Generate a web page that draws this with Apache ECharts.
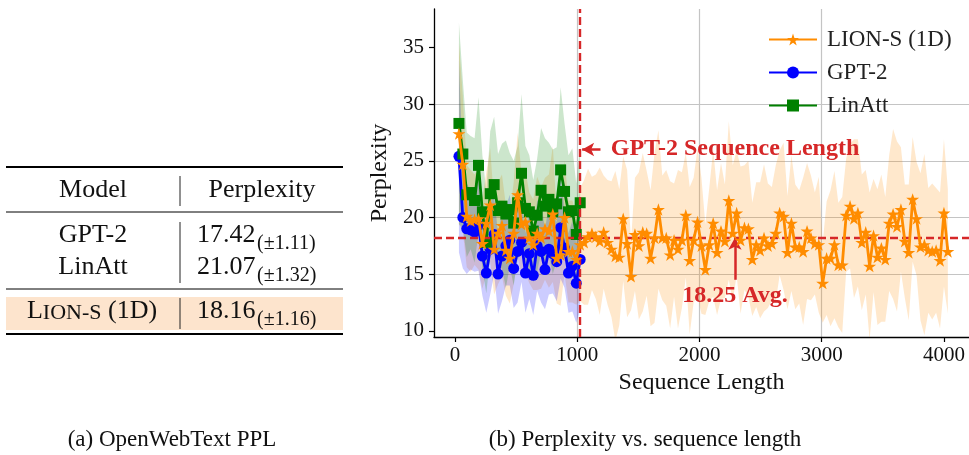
<!DOCTYPE html>
<html><head><meta charset="utf-8">
<script src="https://cdn.jsdelivr.net/npm/echarts@6/dist/echarts.min.js"></script>
<style>html,body{margin:0;padding:0;background:#fff}#c{width:969px;height:455px}</style>
</head><body><div id="c"></div>
<script>
// ---------------- data ----------------
const SEQ_STEP = 32; // sampling step of sequence lengths (32, 64, ...)
const lionPPL = [
  27.4, 24.7, 20.1, 19.7, 19.8, 19.9, 17.7, 19.5, 21.1, 17.2, 18.6, 19.3, 17.1, 16.4, 18.6, 22.0,
  19.4, 19.6, 18.2, 17.6, 18.6, 18.2, 19.0, 18.8, 20.3, 16.4, 16.7, 20.0, 17.0, 17.0, 16.3, 17.6,
  17.8, 18.3, 18.6, 18.3, 17.9, 18.7, 17.8, 17.2, 16.6, 16.5, 19.9, 17.7, 14.8, 18.5, 17.5, 18.7,
  18.6, 16.4, 18.2, 20.7, 18.2, 18.2, 16.7, 18.0, 17.2, 18.0, 20.2, 16.2, 18.0, 19.6, 17.5, 15.4,
  17.6, 19.5, 16.9, 18.8, 17.9, 21.5, 18.6, 20.4, 18.0, 19.1, 19.0, 16.3, 17.6, 17.1, 18.2, 17.5,
  17.7, 18.6, 20.4, 20.1, 16.9, 19.5, 17.4, 17.4, 17.0, 18.8, 18.2, 17.7, 17.6, 14.2, 16.4,
  16.4, 17.6, 15.8, 15.8, 20.2, 21.0, 19.9, 20.4, 17.8, 18.7, 15.7, 18.4, 16.5, 17.3, 16.3, 19.5,
  20.3, 19.2, 20.7, 17.9, 16.9, 21.6, 19.9, 17.4, 17.6, 17.1, 17.0, 17.1, 16.2, 20.4, 17.0
];
const lionStd = [
  8.0, 6.0, 4.5, 4.5, 4.0, 4.5, 4.0, 4.5, 5.0, 4.0, 4.5, 4.5, 4.0, 4.0, 4.5, 5.5,
  4.5, 4.5, 4.0, 4.0, 5.0, 4.5, 4.5, 5.0, 6.0, 4.0, 4.5, 5.0, 4.5, 4.5, 4.0, 5.0,
  5.5, 6.0, 5.0, 5.5, 6.5, 5.0, 5.5, 6.0, 7.5, 6.0,
  5.5, 6.5, 3.0, 5.0, 6.5, 7.0, 5.5, 6.0, 7.5, 7.0,
  5.5, 6.0, 6.5, 5.0, 7.0, 6.0, 5.5, 6.5, 5.5, 6.5,
  6.0, 4.0, 5.0, 6.5, 5.5, 6.0, 5.0, 7.0, 6.0, 5.5,
  6.5, 5.5, 6.0, 5.0, 5.5, 6.0, 6.5, 5.5, 5.0, 6.0,
  5.5, 6.5, 5.0, 6.0, 5.5, 5.0, 6.5, 6.0, 5.5, 4.5,
  6.0, 3.5, 5.0, 6.0, 6.5, 5.5, 6.0, 5.0, 5.5, 7.0,
  6.5, 6.0, 5.5, 6.5, 5.0, 6.0, 6.5, 5.5, 6.0, 7.5,
  7.5, 5.5, 5.0, 6.0, 5.5, 5.0, 6.5, 8.0, 5.5, 6.0,
  5.5, 6.0, 6.5, 5.5
];
const gpt2PPL = [
  25.4, 20.0, 19.0, 18.9, 18.7, 19.3, 16.6, 15.1, 17.2, 18.5, 15.0, 16.6, 17.5, 18.0, 15.5, 17.0,
  17.8, 15.1, 16.8, 14.9, 17.5, 17.0, 15.4, 17.2, 16.8, 16.1, 19.1, 17.3, 15.1, 15.7, 14.2, 16.3
];
const gpt2Std = [
  8.5, 4.5, 4.0, 3.5, 3.5, 4.0, 3.5, 3.5, 4.0, 3.5, 3.5, 4.0, 3.5, 4.0, 3.5, 4.5,
  3.5, 3.5, 4.0, 3.5, 4.0, 4.5, 3.5, 4.0, 3.5, 3.5, 4.5, 3.5, 3.5, 4.0, 3.5, 4.5
];
const linattPPL = [
  28.3, 25.6, 22.0, 22.2, 21.5, 24.6, 20.5, 17.8, 22.1, 22.9, 20.6, 21.0, 20.3, 20.7, 19.5, 21.3,
  23.9, 20.8, 20.5, 18.8, 20.2, 22.4, 21.0, 21.6, 20.5, 21.2, 24.2, 22.3, 20.5, 20.6, 18.5, 21.3
];
const linattStd = [
  8.9, 6.5, 5.5, 5.0, 5.5, 6.0, 5.0, 4.5, 5.5, 6.0, 5.0, 5.5, 6.5, 5.0, 5.5, 5.0,
  7.0, 5.5, 5.0, 4.5, 5.0, 5.5, 6.0, 5.0, 5.5, 5.0, 7.3, 6.0, 5.0, 5.5, 4.5, 5.0
];
const xTicks = [0, 1000, 2000, 3000, 4000];
const yTicks = [10, 15, 20, 25, 30, 35];
const gpt2SeqLen = 1024;
const lionAvg = 18.25;
const tableModels = ['GPT-2', 'LinAtt', 'LION-S (1D)'];
const tablePPL = ['17.42', '21.07', '18.16'];
const tableStd = ['1.11', '1.32', '1.16'];

// ---------------- helpers ----------------
const FONT = 'Liberation Serif';
const RED = '#d62728';
const ORANGE = '#ff8c00', BLUE = '#0000ff', GREEN = '#008000';
const STAR = 'path://M50 0 L61.2 34.5 L97.6 34.5 L68.2 55.9 L79.4 90.5 L50 69.1 L20.6 90.5 L31.8 55.9 L2.4 34.5 L38.8 34.5 Z';
const seqLen = i => (i + 1) * SEQ_STEP;
const pts = arr => arr.map((v, i) => [seqLen(i), v]);

function bandSeries(id, mean, sd, fill) {
  const data = mean.map((v, i) => [seqLen(i), v - sd[i], v + sd[i]]);
  return {
    type: 'custom', id, silent: true, z: 1,
    encode: { x: 0, y: [1, 2] },
    data,
    renderItem(params, api) {
      if (params.dataIndex !== 0) return null;
      const up = [], lo = [];
      for (const d of data) { up.push(api.coord([d[0], d[2]])); lo.push(api.coord([d[0], d[1]])); }
      const cs = params.coordSys;
      return {
        type: 'polygon', shape: { points: up.concat(lo.reverse()) },
        style: { fill },
        clipPath: { type: 'rect', shape: { x: cs.x, y: cs.y, width: cs.width, height: cs.height } }
      };
    }
  };
}

function lineSeries(name, arr, color, symbol, size, z) {
  return {
    name, type: 'line', data: pts(arr), symbol, symbolSize: size, symbolKeepAspect: true,
    showAllSymbol: true, z, lineStyle: { width: 2.8, color }, itemStyle: { color }
  };
}

const chart = echarts.init(document.getElementById('c'), null, { renderer: 'canvas' });

const orange = lineSeries('LION-S (1D)', lionPPL, ORANGE, STAR, 13, 5);
const redLine = { color: RED, width: 2.4, type: [8, 4] };
const redArrow = { color: RED, width: 2.5, type: 'solid' };
orange.markLine = {
  silent: true, animation: false, symbol: ['none', 'none'], label: { show: false },
  data: [
    { xAxis: gpt2SeqLen, lineStyle: redLine },
    { yAxis: lionAvg, lineStyle: redLine },
    [{ coord: [1190, 26.0], symbol: 'none', lineStyle: redArrow }, { coord: [1040, 26.0], symbol: 'arrow', symbolSize: [10, 12] }],
    [{ coord: [2290, 14.5], symbol: 'none', lineStyle: redArrow }, { coord: [2290, 18.2], symbol: 'arrow', symbolSize: [10, 12] }]
  ]
};
orange.markPoint = {
  silent: true, animation: false, symbol: 'circle', symbolSize: 1,
  itemStyle: { color: 'rgba(0,0,0,0)' },
  label: { show: true, color: RED, fontFamily: FONT, fontWeight: 'bold', fontSize: 24 },
  data: [
    { coord: [1270, 26.1], label: { position: 'right', distance: 0, formatter: 'GPT-2 Sequence Length' } },
    { coord: [2290, 13.1], label: { position: 'inside', formatter: lionAvg + ' Avg.' } }
  ]
};

// table graphics
const G = [];
const txt = (x, y, text, size, align, extra) => G.push(Object.assign({
  type: 'text', x, y, z: 10,
  style: { text, fontFamily: FONT, fontSize: size, fill: '#111', align: align || 'center', verticalAlign: 'middle' }
}, extra || {}));
const hline = (y, w) => G.push({ type: 'line', z: 10, shape: { x1: 6, y1: y, x2: 343, y2: y }, style: { stroke: '#000', lineWidth: w } });
const vline = (y1, y2) => G.push({ type: 'line', z: 10, shape: { x1: 180, y1, x2: 180, y2 }, style: { stroke: '#222', lineWidth: 1 } });

G.push({ type: 'rect', z: 5, shape: { x: 6, y: 297, width: 337, height: 33 }, style: { fill: '#fde4cd' } });
hline(167, 1.8); hline(212, 1); hline(289, 1); hline(334, 1.8);
vline(176, 206); vline(222, 283); vline(298, 329);
txt(93, 190, 'Model', 26); txt(262, 190, 'Perplexity', 26);
const rowY = [235, 267, 311];
for (let i = 0; i < 3; i++) {
  if (i < 2) txt(93, rowY[i], tableModels[i], 26);
  txt(197, rowY[i], tablePPL[i], 26, 'left');
  txt(257, rowY[i] + 8.5, '(\u00b1' + tableStd[i] + ')', 20, 'left');
}
// small caps "LION-S (1D)"
const lm = tableModels[2];
G.push({
  type: 'text', x: 92, y: 311, z: 10,
  style: {
    text: '{a|' + lm.slice(0, 1) + '}{b|' + lm.slice(1, 6) + '}{a|' + lm.slice(6) + '}',
    align: 'center', verticalAlign: 'middle', fill: '#111',
    rich: {
      a: { fontFamily: FONT, fontSize: 26, verticalAlign: 'bottom', fill: '#111' },
      b: { fontFamily: FONT, fontSize: 22, verticalAlign: 'bottom', fill: '#111' }
    }
  }
});
txt(172, 440, '(a) OpenWebText PPL', 23);
txt(645, 440, '(b) Perplexity vs. sequence length', 23);

const option = {
  animation: false,
  backgroundColor: '#fff',
  grid: { left: 434, top: 9, right: 0, bottom: 118, containLabel: false },
  legend: {
    data: ['LION-S (1D)', 'GPT-2', 'LinAtt'],
    orient: 'vertical', left: 763, top: 23, itemWidth: 48, itemHeight: 15, itemGap: 10,
    textStyle: { fontFamily: FONT, fontSize: 23, color: '#222', padding: [0, 0, 0, 5] }
  },
  xAxis: {
    type: 'value', min: -172, max: 4205,
    name: 'Sequence Length', nameLocation: 'middle', nameGap: 32,
    nameTextStyle: { fontFamily: FONT, fontSize: 24, color: '#111' },
    axisLine: { show: true, onZero: false, lineStyle: { color: '#000', width: 1.3 } },
    axisTick: { show: true, length: 5, lineStyle: { color: '#000', width: 1.2 }, customValues: xTicks },
    axisLabel: { customValues: xTicks, formatter: v => String(v), fontFamily: FONT, fontSize: 21, color: '#111', margin: 8 },
    splitLine: { show: true, showMinLine: false, showMaxLine: false, lineStyle: { color: '#c4c4c4', width: 1.2 } }
  },
  yAxis: {
    type: 'value', min: 9.45, max: 38.4,
    name: 'Perplexity', nameLocation: 'middle', nameGap: 35, nameRotate: 90,
    nameTextStyle: { fontFamily: FONT, fontSize: 24, color: '#111' },
    axisLine: { show: true, onZero: false, lineStyle: { color: '#000', width: 1.3 } },
    axisTick: { show: true, length: 5, lineStyle: { color: '#000', width: 1.2 }, customValues: yTicks },
    axisLabel: { customValues: yTicks, formatter: v => String(v), fontFamily: FONT, fontSize: 21, color: '#111', margin: 10 },
    splitLine: { show: true, showMinLine: false, showMaxLine: false, lineStyle: { color: '#c4c4c4', width: 1.2 } }
  },
  graphic: { elements: G },
  series: [
    bandSeries('bandLion', lionPPL, lionStd, 'rgba(255,140,0,0.2)'),
    bandSeries('bandGpt2', gpt2PPL, gpt2Std, 'rgba(0,0,255,0.2)'),
    bandSeries('bandLin', linattPPL, linattStd, 'rgba(0,128,0,0.2)'),
    lineSeries('GPT-2', gpt2PPL, BLUE, 'circle', 11, 3),
    lineSeries('LinAtt', linattPPL, GREEN, 'rect', 11, 4),
    orange
  ]
};
chart.setOption(option);
</script>
</body></html>
